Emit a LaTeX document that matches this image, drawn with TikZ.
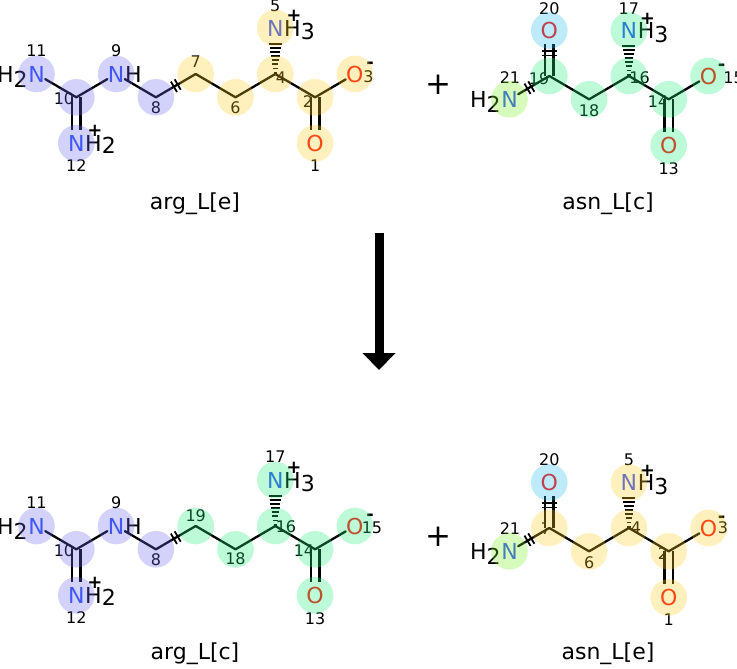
\documentclass[tikz,border=0pt]{standalone}
\usepackage{fontspec}
\setmainfont{DejaVu Sans}
\usepackage{xcolor}
\usetikzlibrary{arrows.meta,calc,positioning}

\definecolor{nblue}{RGB}{48,80,248}
\definecolor{ored}{RGB}{255,13,13}
\definecolor{hlblue}{RGB}{105,105,238}
\definecolor{hlyellow}{RGB}{255,205,38}
\definecolor{hlgreen}{RGB}{38,238,122}
\definecolor{hlcyan}{RGB}{38,188,238}
\definecolor{hllime}{RGB}{122,238,38}

\newcommand{\atomfont}{\fontsize{22}{22}\selectfont}
\newcommand{\idxfont}{\fontsize{16}{16}\selectfont}
\newcommand{\chgfont}{\fontsize{18}{18}\selectfont\bfseries}
\newcommand{\namefont}{\fontsize{22}{22}\selectfont}
\newcommand{\plusfont}{\fontsize{31}{31}\selectfont}

% hashed wedge, narrow end at #1
\newcommand{\hashbond}[2]{%
  \foreach \p/\w in {0.03/1.6,0.12/2.3,0.21/3.0,0.30/3.7,0.39/4.4,0.48/5.1,0.57/5.8,0.66/6.5}
    \draw[hashline] ($(#1)!\p!(#2)!\w pt!90:(#2)$) -- ($(#1)!\p!(#2)!\w pt!-90:(#2)$);}
% two ticks across a broken bond
\newcommand{\bondcut}[3]{%
  \foreach \s in {-2.2,2.2}
    \draw[bondtick] ($(#1)!0.5!(#2)!\s pt!(#2)!#3!90:(#2)$) -- ($(#1)!0.5!(#2)!\s pt!(#2)!#3!-90:(#2)$);}

\begin{document}
\begin{tikzpicture}[x=1pt, y=-1pt]
  \tikzstyle{bond}=[draw=black, line width=2.3pt, line cap=round]
  \tikzstyle{dbond}=[draw=black, line width=2.3pt, double=white, double distance=6.3pt]
  \tikzstyle{hashline}=[draw=black, line width=1.9pt]
  \tikzstyle{bondtick}=[draw=black, line width=1.8pt]
  \tikzstyle{atom}=[inner xsep=0.5pt, inner ysep=5pt, outer sep=0pt, font=\atomfont]
  \tikzstyle{nat}=[atom, text=nblue]
  \tikzstyle{oat}=[atom, text=ored]
  \tikzstyle{hyd}=[inner sep=0pt, font=\atomfont]
  \tikzstyle{idx}=[inner sep=0pt, font=\idxfont]
  \tikzstyle{charge}=[inner sep=0pt, font=\chgfont]
  \tikzstyle{molname}=[inner sep=0pt, font=\namefont, anchor=base]
  \tikzstyle{plussign}=[inner sep=0pt, font=\plusfont]
  \tikzstyle{reaction}=[line width=9pt, -{Triangle[width=32pt,length=17pt]}]

  \useasboundingbox (0,0) rectangle (737,669);

  % arg_L[e]
  \node[nat] (A11) at (36.5,74)    {N};
  \coordinate (A10) at (76.3,97.3);
  \node[nat] (A12) at (76.3,143.3) {N};
  \node[nat] (A9)  at (116.1,74)   {N};
  \coordinate (A8) at (155.9,97.3);
  \coordinate (A7) at (195.7,74);
  \coordinate (A6) at (235.5,97.3);
  \coordinate (A4) at (275.3,74);
  \node[nat] (A5)  at (275.3,28)   {N};
  \coordinate (A2) at (315.1,97.3);
  \node[oat] (A1)  at (315.1,143.3) {O};
  \node[oat] (A3)  at (354.9,74)   {O};

  \node[hyd, anchor=base east] (A11h) at (A11.base west) {H\raisebox{-5pt}{2}};
  \node[hyd, anchor=base west] (A12h) at (A12.base east) {H\raisebox{-2pt}{2}};
  \node[hyd, anchor=base west] (A9h)  at (A9.base east)  {H};
  \node[hyd, anchor=base west] (A5h)  at (A5.base east)  {H\raisebox{-3.5pt}{3}};
  \node[charge] (A12c) at (94.8,131.3) {+};
  \node[charge] (A5c)  at (293.8,16)   {+};
  \node[charge] (A3c)  at (370,65)     {-};

  \node[idx] (A11n) at (36.5,51)   {11};
  \node[idx] (A10n) at (64,99)     {10};
  \node[idx] (A12n) at (76.3,166)  {12};
  \node[idx] (A9n)  at (116.1,51)  {9};
  \node[idx] (A8n)  at (155.9,108) {8};
  \node[idx] (A7n)  at (195.7,62)  {7};
  \node[idx] (A6n)  at (235.5,108) {6};
  \node[idx] (A4n)  at (281,78)    {4};
  \node[idx] (A5n)  at (275.3,6)   {5};
  \node[idx] (A2n)  at (308,102)   {2};
  \node[idx] (A1n)  at (315.1,166) {1};
  \node[idx] (A3n)  at (368.5,77)  {3};
  \node[molname] (Aname) at (195,209) {arg\_L[e]};

  \path (A10) edge[dbond] (A12)
        (A2)  edge[dbond] (A1);
  \path (A10) edge[bond] (A11)
              edge[bond] (A9)
        (A8)  edge[bond] (A9)
              edge[bond] (A7)
        (A6)  edge[bond] (A7)
              edge[bond] (A4)
        (A2)  edge[bond] (A4)
              edge[bond] (A3);
  \hashbond{A4}{A5}
  \bondcut{A8}{A7}{6pt}

  \node[plussign] (plusA) at (438.3,85) {+};

  % asn_L[c]
  \node[nat] (B21) at (509.5,99.3) {N};
  \coordinate (B19) at (549.3,76);
  \node[oat] (B20) at (549.3,30.5) {O};
  \coordinate (B18) at (589.1,99.3);
  \coordinate (B16) at (628.9,76);
  \node[nat] (B17) at (628.9,30.5) {N};
  \coordinate (B14) at (668.7,99.3);
  \node[oat] (B13) at (668.7,145.5) {O};
  \node[oat] (B15) at (708.5,76)   {O};

  \node[hyd, anchor=base east] (B21h) at (B21.base west) {H\raisebox{-5pt}{2}};
  \node[hyd, anchor=base west] (B17h) at (B17.base east) {H\raisebox{-3.5pt}{3}};
  \node[charge] (B17c) at (647.4,18.5) {+};
  \node[charge] (B15c) at (721.7,67)   {-};

  \node[idx] (B20n) at (549.3,8.5)   {20};
  \node[idx] (B19n) at (539,79)      {19};
  \node[idx] (B21n) at (510,78)      {21};
  \node[idx] (B18n) at (589.1,110.5) {18};
  \node[idx] (B16n) at (639.5,78)    {16};
  \node[idx] (B17n) at (628.9,8.5)   {17};
  \node[idx] (B14n) at (658,101.5)   {14};
  \node[idx] (B13n) at (668.7,168.5) {13};
  \node[idx] (B15n) at (733.5,78)    {15};
  \node[molname] (Bname) at (608,209) {asn\_L[c]};

  \path (B19) edge[dbond] (B20)
        (B14) edge[dbond] (B13);
  \path (B19) edge[bond] (B21)
              edge[bond] (B18)
        (B16) edge[bond] (B18)
              edge[bond] (B14)
        (B14) edge[bond] (B15);
  \hashbond{B16}{B17}
  \bondcut{B21}{B19}{6pt}
  \bondcut{B19}{B20}{7.5pt}

  % reaction arrow
  \coordinate (arrtop) at (379,232.7);
  \coordinate (arrtip) at (379,370);
  \draw[reaction] (arrtop) -- (arrtip);

  \begin{scope}[shift={(0,452)}]
    % arg_L[c]
    \node[nat] (C11) at (36.5,74)    {N};
    \coordinate (C10) at (76.3,97.3);
    \node[nat] (C12) at (76.3,143.3) {N};
    \node[nat] (C9)  at (116.1,74)   {N};
    \coordinate (C8) at (155.9,97.3);
    \coordinate (C7) at (195.7,74);
    \coordinate (C6) at (235.5,97.3);
    \coordinate (C4) at (275.3,74);
    \node[nat] (C5)  at (275.3,28)   {N};
    \coordinate (C2) at (315.1,97.3);
    \node[oat] (C1)  at (315.1,143.3) {O};
    \node[oat] (C3)  at (354.9,74)   {O};

    \node[hyd, anchor=base east] (C11h) at (C11.base west) {H\raisebox{-5pt}{2}};
    \node[hyd, anchor=base west] (C12h) at (C12.base east) {H\raisebox{-2pt}{2}};
    \node[hyd, anchor=base west] (C9h)  at (C9.base east)  {H};
    \node[hyd, anchor=base west] (C5h)  at (C5.base east)  {H\raisebox{-3.5pt}{3}};
    \node[charge] (C12c) at (94.8,131.3) {+};
    \node[charge] (C5c)  at (293.8,16)   {+};
    \node[charge] (C3c)  at (370,65)     {-};

    \node[idx] (C11n) at (36.5,51)   {11};
    \node[idx] (C10n) at (64,99)     {10};
    \node[idx] (C12n) at (76.3,166)  {12};
    \node[idx] (C9n)  at (116.1,51)  {9};
    \node[idx] (C8n)  at (155.9,108) {8};
    \node[idx] (C7n)  at (195.7,64)  {19};
    \node[idx] (C6n)  at (235.5,107) {18};
    \node[idx] (C4n)  at (286,75)    {16};
    \node[idx] (C5n)  at (275.3,5)   {17};
    \node[idx] (C2n)  at (304,98.5)  {14};
    \node[idx] (C1n)  at (315.1,166.5) {13};
    \node[idx] (C3n)  at (372,75.5)  {15};
    \node[molname] (Cname) at (195,207) {arg\_L[c]};

    \path (C10) edge[dbond] (C12)
          (C2)  edge[dbond] (C1);
    \path (C10) edge[bond] (C11)
                edge[bond] (C9)
          (C8)  edge[bond] (C9)
                edge[bond] (C7)
          (C6)  edge[bond] (C7)
                edge[bond] (C4)
          (C2)  edge[bond] (C4)
                edge[bond] (C3);
    \hashbond{C4}{C5}
    \bondcut{C8}{C7}{6pt}

    \node[plussign] (plusC) at (438.3,85) {+};

    % asn_L[e]
    \node[nat] (D21) at (509.5,99.3) {N};
    \coordinate (D19) at (549.3,76);
    \node[oat] (D20) at (549.3,30.5) {O};
    \coordinate (D18) at (589.1,99.3);
    \coordinate (D16) at (628.9,76);
    \node[nat] (D17) at (628.9,30.5) {N};
    \coordinate (D14) at (668.7,99.3);
    \node[oat] (D13) at (668.7,145.5) {O};
    \node[oat] (D15) at (708.5,76)   {O};

    \node[hyd, anchor=base east] (D21h) at (D21.base west) {H\raisebox{-5pt}{2}};
    \node[hyd, anchor=base west] (D17h) at (D17.base east) {H\raisebox{-3.5pt}{3}};
    \node[charge] (D17c) at (647.4,18.5) {+};
    \node[charge] (D15c) at (721.7,67)   {-};

    \node[idx] (D20n) at (549.3,8)   {20};
    \node[idx] (D19n) at (546,77)    {7};
    \node[idx] (D21n) at (510,77)    {21};
    \node[idx] (D18n) at (589.1,110.5) {6};
    \node[idx] (D16n) at (636,75.5)  {4};
    \node[idx] (D17n) at (628.9,8)   {5};
    \node[idx] (D14n) at (663,102)   {2};
    \node[idx] (D13n) at (668.7,168) {1};
    \node[idx] (D15n) at (723,76)    {3};
    \node[molname] (Dname) at (608,207) {asn\_L[e]};

    \path (D19) edge[dbond] (D20)
          (D14) edge[dbond] (D13);
    \path (D19) edge[bond] (D21)
                edge[bond] (D18)
          (D16) edge[bond] (D18)
                edge[bond] (D14)
          (D14) edge[bond] (D15);
    \hashbond{D16}{D17}
    \bondcut{D21}{D19}{6pt}
    \bondcut{D19}{D20}{7.5pt}
  \end{scope}

  % atom highlights
  \begin{scope}[transparency group, opacity=0.3]
    \foreach \atm in {A11,A10,A12,A9,A8,C11,C10,C12,C9,C8}
      \fill[hlblue] (\atm.center) circle[radius=18.3pt];
    \foreach \atm in {A7,A6,A4,A5,A2,A1,A3,D19,D18,D16,D17,D14,D13,D15}
      \fill[hlyellow] (\atm.center) circle[radius=18.3pt];
    \foreach \atm in {B19,B18,B16,B17,B14,B13,B15,C7,C6,C4,C5,C2,C1,C3}
      \fill[hlgreen] (\atm.center) circle[radius=18.3pt];
    \foreach \atm in {B20,D20}
      \fill[hlcyan] (\atm.center) circle[radius=18.3pt];
    \foreach \atm in {B21,D21}
      \fill[hllime] (\atm.center) circle[radius=18.3pt];
  \end{scope}
\end{tikzpicture}
\end{document}
